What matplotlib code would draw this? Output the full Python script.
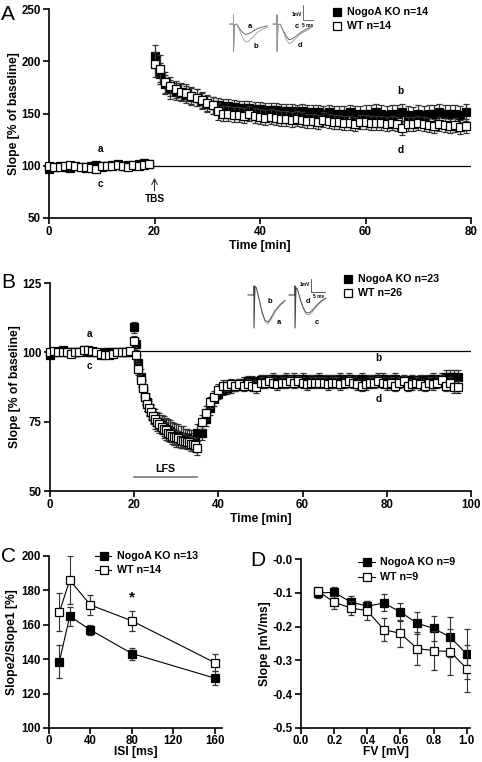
import numpy as np
import matplotlib
matplotlib.use("Agg")
import matplotlib.pyplot as plt
from matplotlib.lines import Line2D

plt.rcParams['font.family'] = ['Liberation Sans', 'DejaVu Sans']
plt.rcParams['font.weight'] = 'bold'
plt.rcParams['axes.labelweight'] = 'bold'

W, H = 482, 762

# ---------------- data ----------------
# Panel A: LTP after TBS (one point per minute)
a_time = np.arange(0, 80)
a_ko = [97, 99, 100, 99, 98, 100, 99, 98, 100, 101, 99, 100, 101, 102, 100, 101, 100, 102, 103, 102,
        205, 188, 178, 173, 171, 170, 168, 166, 165, 162,
        159, 158, 158, 157, 157, 156, 155, 155, 155, 154,
        154, 153, 153, 153, 152, 152, 152, 151, 152, 151,
        151, 151, 150, 151, 150, 150, 150, 151, 150, 150,
        150, 150, 151, 150, 149, 150, 150, 151, 149, 148,
        150, 149, 150, 150, 151, 150, 150, 150, 149, 151]
a_ko_err = [3, 2, 2, 2, 2, 2, 2, 2, 2, 2, 2, 2, 2, 2, 2, 2, 2, 2, 2, 2,
            11, 10, 9, 9, 8, 8, 8, 8, 8, 8,
            8, 8, 7, 7, 7, 7, 7, 7, 7, 7,
            7, 7, 7, 7, 7, 7, 7, 7, 7, 7,
            7, 7, 7, 7, 7, 7, 7, 7, 7, 7,
            8, 8, 8, 8, 8, 8, 8, 8, 8, 8,
            8, 8, 8, 8, 8, 8, 8, 8, 8, 8]
a_wt = [100, 99, 99, 100, 101, 100, 99, 99, 98, 97, 100, 100, 100, 101, 100, 99, 101, 100, 101, 102,
        197, 193, 180, 176, 173, 171, 170, 167, 165, 163,
        160, 158, 152, 150, 150, 149, 149, 148, 150, 148,
        147, 146, 147, 146, 145, 145, 144, 145, 144, 143,
        143, 142, 144, 143, 142, 142, 141, 141, 140, 142,
        142, 141, 141, 141, 140, 141, 140, 136, 140, 140,
        141, 140, 139, 138, 140, 139, 138, 139, 137, 138]
a_wt_err = [2, 2, 2, 2, 3, 2, 2, 2, 2, 3, 2, 2, 2, 2, 2, 2, 2, 2, 2, 2,
            12, 13, 10, 9, 8, 8, 8, 8, 8, 8,
            8, 8, 8, 7, 7, 7, 7, 7, 7, 7,
            7, 7, 7, 7, 7, 7, 7, 7, 7, 7,
            7, 7, 7, 7, 7, 7, 7, 7, 7, 7,
            7, 7, 7, 7, 7, 7, 7, 7, 7, 7,
            7, 7, 7, 7, 7, 7, 7, 7, 7, 7]

# Panel B: LTD after LFS (denser sampling during LFS)
b_time = np.concatenate([np.arange(0, 20), np.arange(20, 35.5, 0.5), np.arange(36, 98)])
b_ko = [99, 100, 100, 101, 100, 100, 100, 100, 101, 100, 100, 100, 99, 100, 100, 100, 100, 100, 100, 100,
        109, 103, 96, 91, 87, 84, 82, 80, 78.5, 77,
        76, 75, 74.5, 74, 73, 72.5, 72, 71.5, 71, 70.5,
        70, 70, 69.5, 69.5, 69, 69, 68.5, 68.5, 68, 68, 71,
        71, 76, 80, 83, 85, 86.5, 87, 87.5, 88, 88.5,
        89, 89.5, 89.5, 89, 90, 90, 90, 90.5, 90, 90,
        90.5, 90, 90.5, 90, 90.5, 90, 90, 90, 90.5, 90,
        90, 90, 90, 90.5, 90, 90.5, 90, 90, 90.5, 90,
        90, 90, 90.5, 90.5, 90, 90, 90.5, 89.5, 90, 89.5,
        90, 89.5, 90, 90, 90, 90.5, 90, 90.5, 91, 91,
        91, 91]
b_ko_err = [1, 1, 1, 1, 1, 1, 1, 1, 1, 1, 1, 1, 1, 1, 1, 1, 1, 1, 1, 1,
            2, 2, 3, 3, 3, 3, 3, 3, 3, 3,
            3.5, 3.5, 3.5, 3.5, 4, 4, 4, 4, 4, 4,
            4, 4, 4, 4, 3.5, 3.5, 3.5, 3.5, 3, 3, 3,
            2.5, 2.5, 2.5, 2.5, 2, 2, 2, 2, 2, 2,
            2, 2, 2, 2, 2, 2, 2, 2, 2, 2,
            2, 2, 2, 2, 2, 2, 2, 2, 2, 2,
            2, 2, 2, 2, 2, 2, 2, 2, 2, 2,
            2, 2, 2, 2, 2, 2, 2, 2, 2, 2,
            2, 2, 2, 2, 2, 2, 2, 2, 2.5, 2.5,
            2.5, 2.5]
b_wt = [100, 100.5, 100, 100, 100, 99.5, 100, 100, 101, 101, 100.5, 100, 99.5, 99, 99, 99.5, 100, 100, 100, 100.5,
        104, 99, 94, 90, 87, 84, 81.5, 80, 78.5, 77,
        76, 75, 74, 73, 72.5, 72, 71, 70.5, 70, 69.5,
        69.5, 69, 68.5, 68, 68, 67.5, 67.5, 67, 67, 66.5, 65.5,
        75, 78, 82, 84, 86.5, 88, 88, 88.5, 88, 88.5,
        88, 88.5, 88, 87.5, 89, 89, 89.5, 89, 88.5, 89,
        89, 89.5, 89, 89.5, 89, 88.5, 89, 89, 89, 89,
        88.5, 89, 89, 88.5, 89, 89.5, 89, 88.5, 88, 88.5,
        89, 89, 89.5, 89, 88.5, 89, 88, 89, 89.5, 88,
        88.5, 89, 88.5, 88, 89, 88.5, 89, 90, 88, 89,
        87.5, 87.5]
b_wt_err = [1, 1, 1, 1, 1, 1, 1, 1, 1, 1, 1, 1, 1, 1, 1, 1, 1, 1, 1, 1,
            2, 2, 2, 2.5, 2.5, 2.5, 2.5, 2.5, 2.5, 2.5,
            2.5, 2.5, 2.5, 2.5, 2.5, 2.5, 2.5, 2.5, 2.5, 2.5,
            2.5, 2.5, 2.5, 2.5, 2.5, 2.5, 2.5, 2.5, 2.5, 2.5, 2.5,
            2.5, 2.5, 2, 2, 2, 2, 2, 2, 2, 2,
            2, 2, 2, 2, 2, 2, 2, 2, 2, 2,
            2, 2, 2, 2, 2, 2, 2, 2, 2, 2,
            2, 2, 2, 2, 2, 2, 2, 2, 2, 2,
            2, 2, 2, 2, 2, 2, 2, 2, 2, 2,
            2, 2, 2, 2, 2, 2, 2, 2, 2, 2,
            2, 2]

# Panel C: paired pulse facilitation
isi = [10, 20, 40, 80, 160]
c_ko = [138.5, 165, 157, 143.3, 129]
c_ko_err = [9.5, 5.5, 3, 3.5, 4]
c_wt = [167.2, 186, 171.5, 162.3, 138]
c_wt_err = [11, 14, 6, 6, 5]

# Panel D: input-output
fv = [0.1, 0.2, 0.3, 0.4, 0.5, 0.6, 0.7, 0.8, 0.9, 1.0]
d_ko = [-0.100, -0.099, -0.127, -0.140, -0.130, -0.157, -0.190, -0.205, -0.231, -0.281]
d_ko_err = [0.015, 0.016, 0.017, 0.017, 0.025, 0.027, 0.033, 0.037, 0.058, 0.075]
d_wt = [-0.094, -0.128, -0.145, -0.153, -0.209, -0.220, -0.265, -0.271, -0.274, -0.324]
d_wt_err = [0.008, 0.020, 0.020, 0.028, 0.035, 0.040, 0.050, 0.058, 0.068, 0.070]

# example fEPSP traces for the insets (ms, mV)
trace_t_a = [-2, 0, 0, 0, 0.5, 1.5, 3, 4.5, 6, 7.5, 9.5, 12, 14.5, 17]
trace_A_a = [0, 0, 0.6, -1.85, -0.05, 0.0, -0.3, -0.55, -0.7, -0.65, -0.5, -0.3, -0.2, -0.12]
trace_A_b = [0, 0, 0.6, -1.85, -0.05, 0.0, -0.4, -0.9, -1.2, -1.15, -0.9, -0.55, -0.35, -0.2]
trace_A_c = [0, 0, 0.6, -1.85, -0.05, 0.0, -0.4, -0.8, -1.05, -1.0, -0.8, -0.55, -0.35, -0.2]
trace_A_d = [0, 0, 0.6, -1.85, -0.05, 0.0, -0.45, -1.0, -1.3, -1.2, -0.95, -0.65, -0.45, -0.25]
trace_t_b = [-3, 0, 0, 0, 0.5, 1.2, 2.5, 4, 5.5, 7, 8.5, 10.5, 13, 15.5]
trace_B_a = [0, 0, 0.75, -2.75, 0.7, 0.6, -0.3, -1.5, -2.2, -2.4, -2.05, -1.45, -0.9, -0.5]
trace_B_b = [0, 0, 0.75, -2.75, 0.7, 0.6, -0.3, -1.4, -2.1, -2.25, -1.9, -1.3, -0.8, -0.45]
trace_B_c = [0, 0, 0.75, -2.75, 0.6, 0.5, -0.3, -1.1, -1.6, -1.65, -1.45, -1.0, -0.6, -0.3]
trace_B_d = [0, 0, 0.75, -2.75, 0.6, 0.5, -0.3, -1.0, -1.45, -1.5, -1.3, -0.9, -0.5, -0.25]

# ---------------- figure ----------------
fig = plt.figure(figsize=(W / 100, H / 100), dpi=100)


def px_axes(l, t, r, b):
    return fig.add_axes([l / W, 1 - b / H, (r - l) / W, (b - t) / H])


def style(ax):
    for s in ['top', 'right']:
        ax.spines[s].set_visible(False)
    for s in ['left', 'bottom']:
        ax.spines[s].set_linewidth(1.2)
    ax.tick_params(direction='out', length=4, width=1.2, labelsize=8.3, pad=2)


def fx(x):
    return x / W


def fy(y):
    return 1 - y / H


def legend_item(x, y, text, filled, line=False, lx=(0, 0)):
    if line:
        fig.add_artist(Line2D([fx(lx[0]), fx(lx[1])], [fy(y), fy(y)], color='black', lw=0.8))
    fig.add_artist(Line2D([fx(x)], [fy(y)], marker='s', ms=5.6,
                          mfc='black' if filled else 'white', mec='black', mew=0.9))
    fig.text(fx(x + (13 if line else 10)), fy(y), text, fontsize=7.7, va='center', ha='left')


err_kw = dict(ls='none', marker='s', ecolor='#333', elinewidth=0.9, capsize=2.3, capthick=0.9,
              mec='black', mew=0.9, clip_on=False)

# ---- Panel A ----
axA = px_axes(49, 9, 471, 218)
style(axA)
axA.axhline(100, color='black', lw=0.9, zorder=1)
axA.errorbar(a_time, a_ko, yerr=a_ko_err, mfc='black', ms=5.4, zorder=3, **err_kw)
axA.errorbar(a_time, a_wt, yerr=a_wt_err, mfc='white', ms=5.4, zorder=4, **err_kw)
axA.set_xlim(0, 80)
axA.set_ylim(50, 250)
axA.set_xticks([0, 20, 40, 60, 80])
axA.set_yticks([50, 100, 150, 200, 250])
axA.set_xlabel('Time [min]', fontsize=8.7, labelpad=1)
axA.set_ylabel('Slope [% of baseline]', fontsize=8.7, labelpad=1)
axA.annotate('', xy=(20, 88.5), xytext=(20, 76),
             arrowprops=dict(arrowstyle='->', color='#333', lw=0.8, shrinkA=0, shrinkB=0))
axA.text(20, 68, 'TBS', ha='center', va='center', fontsize=7.2)
for s, x, y in [('a', 9.7, 116), ('c', 9.7, 83), ('b', 66.7, 172), ('d', 66.7, 115)]:
    axA.text(x, y, s, ha='center', va='center', fontsize=7.2)

insA = px_axes(226, 2, 318, 56)
insA.axis('off')
insA.set_xlim(0, 46)
insA.set_ylim(-2.13, 1.47)
for off, tr1, tr2 in [(3.75, trace_A_a, trace_A_b), (25.5, trace_A_c, trace_A_d)]:
    t = np.array(trace_t_a) + off
    insA.plot(t, tr1, color='#555', lw=0.6)
    insA.plot(t, tr2, color='#999', lw=0.6)
for s, x, y in [('a', 12, -0.13), ('b', 15, -1.53), ('c', 35.5, -0.13), ('d', 37, -1.4)]:
    insA.text(x, y, s, ha='center', va='center', fontsize=5.5)
insA.plot([38.5, 38.5, 43.5], [1.27, 0.27, 0.27], color='#555', lw=0.6)
insA.text(38, 0.67, '1mV', ha='right', va='center', fontsize=3.5)
insA.text(41, -0.1, '5 ms', ha='center', va='center', fontsize=3.5)

legend_item(337, 12, 'NogoA KO n=14', True)
legend_item(337, 26, 'WT n=14', False)
fig.text(fx(1), fy(14), 'A', fontsize=15, fontweight='normal', va='center', ha='left')

# ---- Panel B ----
axB = px_axes(50, 283, 471, 491)
style(axB)
axB.axhline(100.5, color='black', lw=0.9, zorder=1)
axB.errorbar(b_time, b_ko, yerr=b_ko_err, mfc='black', ms=5.2, zorder=3, **err_kw)
axB.errorbar(b_time, b_wt, yerr=b_wt_err, mfc='white', ms=5.2, zorder=4, **err_kw)
axB.set_xlim(0, 100)
axB.set_ylim(50, 125)
axB.set_xticks([0, 20, 40, 60, 80, 100])
axB.set_yticks([50, 75, 100, 125])
axB.set_xlabel('Time [min]', fontsize=8.7, labelpad=1)
axB.set_ylabel('Slope [% of baseline]', fontsize=8.7, labelpad=1)
axB.plot([20, 35], [55, 55], color='#777', lw=1.2)
axB.text(27.5, 57.8, 'LFS', ha='center', va='center', fontsize=7.7)
for s, x, y in [('a', 9.3, 106.5), ('c', 9.3, 95), ('b', 78, 98), ('d', 78, 83)]:
    axB.text(x, y, s, ha='center', va='center', fontsize=7.2)

insB = px_axes(244, 276, 330, 332)
insB.axis('off')
insB.set_xlim(0, 43)
insB.set_ylim(-3.08, 1.58)
for off, tr1, tr2 in [(5, trace_B_a, trace_B_b), (25.5, trace_B_c, trace_B_d)]:
    t = np.array(trace_t_b) + off
    insB.plot(t, tr1, color='#999', lw=0.6)
    insB.plot(t, tr2, color='#444', lw=0.6)
for s, x, y in [('b', 13, -0.58), ('a', 17.5, -2.25), ('d', 32, -0.58), ('c', 36.5, -2.25)]:
    insB.text(x, y, s, ha='center', va='center', fontsize=5.5)
insB.plot([33.5, 33.5, 40.5], [1.33, 0.25, 0.25], color='#444', lw=0.6)
insB.text(33, 0.85, '1mV', ha='right', va='center', fontsize=3.5)
insB.text(37.5, -0.1, '5 ms', ha='center', va='center', fontsize=3.5)

legend_item(348, 279, 'NogoA KO n=23', True)
legend_item(348, 293, 'WT n=26', False)
fig.text(fx(1), fy(282), 'B', fontsize=15, fontweight='normal', va='center', ha='left')

# ---- Panel C ----
line_kw = dict(marker='s', ms=5.3, color='black', lw=0.8, ecolor='#333', elinewidth=0.8,
               capsize=2.5, capthick=0.8, mec='black', mew=0.9)
axC = px_axes(49, 556, 222, 728)
style(axC)
axC.errorbar(isi, c_ko, yerr=c_ko_err, mfc='black', zorder=3, **line_kw)
axC.errorbar(isi, c_wt, yerr=c_wt_err, mfc='white', zorder=4, **line_kw)
axC.set_xlim(0, 167)
axC.set_ylim(100, 200)
axC.set_xticks([0, 40, 80, 120, 160])
axC.set_yticks([100, 120, 140, 160, 180, 200])
axC.tick_params(axis='x', pad=1)
axC.set_xlabel('ISI [ms]', fontsize=8.7, labelpad=-1)
axC.set_ylabel('Slope2/Slope1 [%]', fontsize=8.7, labelpad=2)
axC.text(80, 176, '*', ha='center', va='center', fontsize=11)
legend_item(104, 556, 'NogoA KO n=13', True, line=True, lx=(95, 111))
legend_item(104, 570, 'WT n=14', False, line=True, lx=(95, 111))
fig.text(fx(1), fy(557), 'C', fontsize=15, fontweight='normal', va='center', ha='left')

# ---- Panel D ----
axD = px_axes(301, 559, 470, 728)
style(axD)
axD.errorbar(fv, d_ko, yerr=d_ko_err, mfc='black', zorder=3, **line_kw)
axD.errorbar(fv, d_wt, yerr=d_wt_err, mfc='white', zorder=4, **line_kw)
axD.set_xlim(0, 1.02)
axD.set_ylim(-0.5, 0)
axD.set_xticks([0.0, 0.2, 0.4, 0.6, 0.8, 1.0])
axD.set_xticklabels(['0.0', '0.2', '0.4', '0.6', '0.8', '1.0'])
axD.set_yticks([-0.5, -0.4, -0.3, -0.2, -0.1, 0.0])
axD.set_yticklabels(['-0.5', '-0.4', '-0.3', '-0.2', '-0.1', '-0.0'])
axD.tick_params(axis='x', pad=1)
axD.set_xlabel('FV [mV]', fontsize=8.7, labelpad=-1)
axD.set_ylabel('Slope [mV/ms]', fontsize=8.7, labelpad=1)
legend_item(367, 562, 'NogoA KO n=9', True, line=True, lx=(358, 375))
legend_item(367, 577, 'WT n=9', False, line=True, lx=(358, 375))
fig.text(fx(250), fy(560), 'D', fontsize=15, fontweight='normal', va='center', ha='left')

fig.savefig('out.png', dpi=100)
